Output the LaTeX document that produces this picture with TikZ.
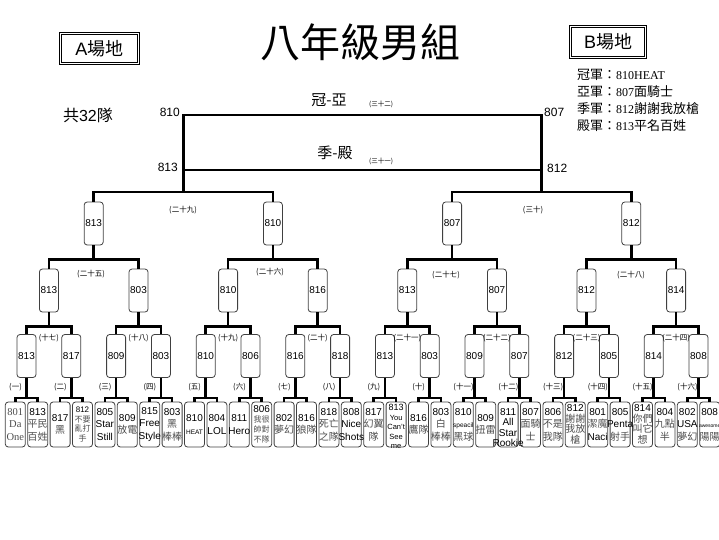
\documentclass[tikz,border=0pt]{standalone}
\usepackage{fontspec}
\setmainfont{Liberation Sans}
\newfontfamily\cjk{Noto Sans CJK TC}
\newfontfamily\tms{Liberation Serif}
\newcommand\fs[2]{\fontsize{#1}{#2}\selectfont}
\newcommand\Z[1]{{\cjk\color{black!70}#1}}
\newcommand\Zs[1]{{\cjk\fs{8}{9}\color{black!70}#1}}
\newcommand\T[1]{{\tms\color{black!70}#1}}
\begin{document}
\begin{tikzpicture}[x=1pt,y=-1pt,
  bk/.style={line width=2.6pt},
  rbox/.style={draw=black!75, line width=0.8pt, rounded corners=3pt, minimum width=19pt, minimum height=43pt, inner sep=0pt, font=\fs{10}{12}},
  bbox/.style={draw=black!75, line width=0.8pt, rounded corners=3pt, minimum width=20pt, minimum height=45pt, inner sep=0pt},
  btxt/.style={inner sep=0pt, align=center, font=\fs{10}{12.5}},
  rnd/.style={font=\cjk\fs{7.5}{8}, inner sep=0pt},
  sitebox/.style={draw, double, double distance=1.4pt, line width=0.6pt, inner sep=0pt, font=\fs{18}{20}}
]
\useasboundingbox (0,0) rectangle (719,539);

% title, sites, legend
\node[font=\cjk\fs{40}{44}] (title) at (360,42) {八年級男組};
\node[sitebox, minimum width=78pt, minimum height=30pt] (siteA) at (99.5,48.5) {A{\cjk 場地}};
\node[sitebox, minimum width=75pt, minimum height=31pt] (siteB) at (608,42) {B{\cjk 場地}};
\node[anchor=north west, align=left, inner sep=0pt, font=\cjk\fs{13}{17}] (legend) at (577,69)
  {冠軍：{\tms\fs{12}{17}810HEAT}\\亞軍：{\tms\fs{12}{17}807}面騎士\\季軍：{\tms\fs{12}{17}812}謝謝我放槍\\殿軍：{\tms\fs{12}{17}813}平名百姓};
\node[font=\fs{16}{18}] (total) at (88,115) {{\cjk 共}32{\cjk 隊}};

% final bracket
\coordinate (fL) at (183.3,115);
\coordinate (fR) at (541.7,115);
\coordinate (tL) at (183.3,170);
\coordinate (tR) at (541.7,170);
\node[anchor=east, font=\fs{12}{14}, inner sep=1pt] (n810) at (181,112) {810};
\node[anchor=east, font=\fs{12}{14}, inner sep=1pt] (n813) at (179,167) {813};
\node[anchor=west, font=\fs{12}{14}, inner sep=1pt] (n807) at (543,112) {807};
\node[anchor=west, font=\fs{12}{14}, inner sep=1pt] (n812) at (546,168) {812};
\node[font=\cjk\fs{15}{16}] (gy) at (329,100) {冠-亞};
\node[font=\cjk\fs{15}{16}] (jd) at (335,153) {季-殿};
\node[rnd, font=\cjk\fs{6.5}{7}] (l32) at (381,104) {(三十二)};
\node[rnd, font=\cjk\fs{6.5}{7}] (l31) at (381,161) {(三十一)};

% rows
\foreach \n [count=\k from 0] in {813,810,807,812}
  \node[rbox] (s\k) at ({93.7+179.2*\k},223.5) {\n};
\foreach \n [count=\k from 0] in {813,803,810,816,813,807,812,814}
  \node[rbox] (q\k) at ({48.9+89.6*\k},290.5) {\n};
\foreach \n [count=\k from 0] in {813,817,809,803,810,806,816,818,813,803,809,807,812,805,814,808}
  \node[rbox] (r\k) at ({26.5+44.8*\k},356) {\n};
\foreach \k in {0,...,31}
  \node[bbox] (b\k) at ({15.3+22.4*\k},424.5) {};

% connectors
\draw[bk] (tL) -- (fL) -- (fR) -- (tR);
\draw[bk] (tL) -- (tR);
\draw[bk] (tL) -- ++(0,22) -| (s0.north);
\draw[bk] (tL) -- ++(0,22) -| (s1.north);
\draw[bk] (tR) -- ++(0,22) -| (s2.north);
\draw[bk] (tR) -- ++(0,22) -| (s3.north);
\foreach \k in {0,...,3}{
  \pgfmathtruncatemacro\a{2*\k}\pgfmathtruncatemacro\b{2*\k+1}
  \draw[bk] (s\k.south) -- ++(0,14) -| (q\a.north);
  \draw[bk] (s\k.south) -- ++(0,14) -| (q\b.north);
}
\foreach \k in {0,...,7}{
  \pgfmathtruncatemacro\a{2*\k}\pgfmathtruncatemacro\b{2*\k+1}
  \draw[bk] (q\k.south) -- ++(0,14) -| (r\a.north);
  \draw[bk] (q\k.south) -- ++(0,14) -| (r\b.north);
}
\foreach \k in {0,...,15}{
  \pgfmathtruncatemacro\a{2*\k}\pgfmathtruncatemacro\b{2*\k+1}
  \draw[bk] (r\k.south) -- ++(0,20) -| (b\a.north);
  \draw[bk] (r\k.south) -- ++(0,20) -| (b\b.north);
}

% round labels
\foreach \t [count=\k from 0] in {一,二,三,四,五,六,七,八,九,十,十一,十二,十三,十四,十五,十六}
  \node[rnd] (g\k) at ({26.5+44.8*\k-11},387) {(\t)};
\foreach \t [count=\k from 0] in {十七,十八,十九,二十,二十一,二十二,二十三,二十四}
  \node[rnd] (m\k) at ({48.9+89.6*\k},338) {(\t)};
\node[rnd] (h0) at (91,274) {(二十五)};
\node[rnd] (h1) at (270,272) {(二十六)};
\node[rnd] (h2) at (446,275) {(二十七)};
\node[rnd] (h3) at (631,275) {(二十八)};
\node[rnd] (e0) at (183,210) {(二十九)};
\node[rnd] (e1) at (533,210) {(三十)};

% team texts
\node[btxt, font=\fs{10.5}{12.5}] (t0) at (b0) {\T{801}\\\T{Da}\\\T{One}};
\node[btxt] (t1) at (b1) {813\\\Z{平民}\\\Z{百姓}};
\node[btxt] (t2) at (b2) {817\\\Z{黑}};
\node[btxt, font=\fs{8}{9.5}] (t3) at (b3) {812\\\Zs{不要}\\\Zs{亂打}\\\Zs{手}};
\node[btxt] (t4) at (b4) {805\\Star\\Still};
\node[btxt] (t5) at (b5) {809\\\Z{放電}};
\node[btxt] (t6) at (b6) {815\\Free\\Style};
\node[btxt] (t7) at (b7) {803\\\Z{黑}\\\Z{棒棒}};
\node[btxt] (t8) at (b8) {810\\{\fs{6.5}{8}HEAT}};
\node[btxt] (t9) at (b9) {804\\LOL};
\node[btxt] (t10) at (b10) {811\\Hero};
\node[btxt, font=\fs{10}{10}] (t11) at (b11) {806\\\Zs{我很}\\\Zs{帥對}\\\Zs{不隊}};
\node[btxt] (t12) at (b12) {802\\\Z{夢幻}};
\node[btxt] (t13) at (b13) {816\\\Z{狼隊}};
\node[btxt] (t14) at (b14) {818\\\Z{死亡}\\\Z{之隊}};
\node[btxt] (t15) at (b15) {808\\Nice\\Shots};
\node[btxt] (t16) at (b16) {817\\\Z{幻翼}\\\Z{隊}};
\node[btxt, font=\fs{7.5}{9.5}] (t17) at ([yshift=-2pt]b17) {{\fs{9}{9.5}813}\\You\\Can't\\See\\me};
\node[btxt] (t18) at (b18) {816\\\Z{鷹隊}};
\node[btxt] (t19) at (b19) {803\\\Z{白}\\\Z{棒棒}};
\node[btxt] (t20) at (b20) {810\\{\fs{6.5}{8}speacil}\\\Z{黑球}};
\node[btxt] (t21) at (b21) {809\\\Z{扭雷}};
\node[btxt, font=\fs{10}{10.5}] (t22) at ([yshift=-3pt]b22) {811\\All\\Star\\Rookie};
\node[btxt] (t23) at (b23) {807\\\Z{面騎}\\\Z{士}};
\node[btxt] (t24) at (b24) {806\\\Z{不是}\\\Z{我隊}};
\node[btxt, font=\fs{10}{10.5}] (t25) at (b25) {812\\\Z{謝謝}\\\Z{我放}\\\Z{槍}};
\node[btxt] (t26) at (b26) {801\\\Z{潔魔}\\Naci};
\node[btxt] (t27) at (b27) {805\\Penta\\\Z{射手}};
\node[btxt, font=\fs{10}{10.5}] (t28) at (b28) {814\\\Z{你們}\\\Z{叫它}\\\Z{想}};
\node[btxt] (t29) at (b29) {804\\\Z{九點}\\\Z{半}};
\node[btxt] (t30) at (b30) {802\\USA\\\Z{夢幻}};
\node[btxt] (t31) at (b31) {808\\{\fs{5}{7}awesome}\\\Z{陽陽}};
\end{tikzpicture}
\end{document}
